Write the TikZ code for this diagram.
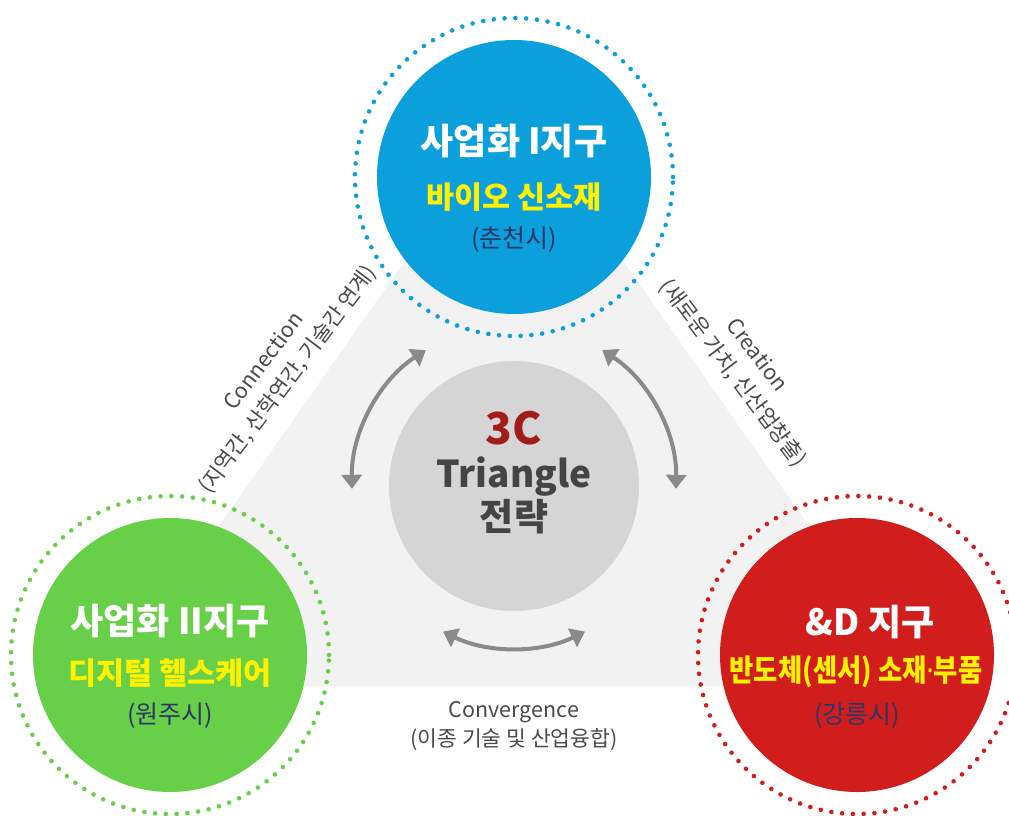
\documentclass[tikz,border=0pt]{standalone}
\usepackage{fontspec}
\setmainfont{Noto Sans CJK KR}
\newfontfamily\latinfont{Noto Sans}
\usetikzlibrary{arrows.meta,calc}
\definecolor{cblue}{HTML}{0BA0DC}
\definecolor{cgreen}{HTML}{67CF48}
\definecolor{cred}{HTML}{D21D1D}
\definecolor{ctri}{HTML}{F2F2F2}
\definecolor{ccen}{HTML}{D5D5D5}
\definecolor{carr}{HTML}{8A8A8A}
\definecolor{cnavy}{HTML}{2E3568}
\definecolor{cdark}{HTML}{444444}
\definecolor{cthree}{HTML}{A31B1B}
\definecolor{ctext}{HTML}{4A4A4A}
\begin{document}
\begin{tikzpicture}[x=1pt,y=1pt,
 hub/.style={circle,minimum size=274pt,inner sep=0pt,draw=none},
 ring/.style={line width=4.6pt,dash pattern=on 0pt off 10.8pt,line cap=round},
 title/.style={text=white,font=\fontsize{36}{36}\selectfont\bfseries,inner sep=0pt},
 sub/.style={text=yellow,font=\fontsize{30.5}{30.5}\selectfont\bfseries,inner sep=0pt},
 city/.style={text=cnavy,font=\fontsize{25}{25}\selectfont,inner sep=0pt},
 lab/.style={text=ctext,font=\fontsize{21.5}{30}\selectfont,align=center,inner sep=0pt},
 arr/.style={carr,line width=4pt,{Triangle[length=14pt,width=20pt]}-{Triangle[length=14pt,width=20pt]}},
]
\useasboundingbox (0,0) rectangle (1009,-816);
\clip (0,0) rectangle (1009,-816);
% background triangle
\coordinate (ta) at (514,-105);
\coordinate (tl) at (107,-686);
\coordinate (tr) at (921,-686);
\fill[ctri] (ta) -- (tl) -- (tr) -- cycle;
% centre circle
\node[circle,minimum size=250pt,inner sep=0pt,fill=ccen] (cc) at (514,-486) {};
% arrows
\draw[arr] ($(cc.center)+(123:162)$) arc[start angle=123, end angle=181, radius=162];
\draw[arr] ($(cc.center)+(57:162)$) arc[start angle=57, end angle=-1, radius=162];
\draw[arr] ($(cc.center)+(244:162)$) arc[start angle=244, end angle=296, radius=162];
% hubs
\node[hub,fill=cblue] (top) at (514,-177) {};
\node[hub,fill=cgreen] (left) at (170,-655) {};
\node[hub,fill=cred] (right) at (857,-655) {};
\draw[ring,cblue] (top.center) circle[radius=159];
\draw[ring,cgreen] (left.center) circle[radius=159];
\draw[ring,cred] (right.center) circle[radius=159];
% texts top
\node[title] (t1) at (514,-141) {사업화 I지구};
\node[sub] (t2) at (514,-197) {바이오 신소재};
\node[city] (t3) at (514,-240) {(춘천시)};
% texts left
\node[title] (l1) at (170,-621) {사업화 II지구};
\node[sub] (l2) at (170,-673) {디지털 헬스케어};
\node[city] (l3) at (170,-716) {(원주시)};
% texts right
\node[title] (r1) at (870,-622) {\&D 지구};
\node[sub] (r2) at (856,-672) {\scalebox{0.865}[1]{반도체(센서) 소재{\latinfont\bfseries ·}부품}};
\node[city] (r3) at (857,-716) {(강릉시)};
% centre texts
\node[text=cthree,font=\fontsize{44}{44}\selectfont\bfseries,inner sep=0pt] (c1) at (514,-428) {3C};
\node[text=cdark,font=\fontsize{37}{37}\selectfont\bfseries,inner sep=0pt] (c2) at (514,-477) {Triangle};
\node[text=cdark,font=\fontsize{37}{37}\selectfont\bfseries,inner sep=0pt] (c3) at (514,-517) {전략};
% side labels
\node[lab,rotate=53] (conn) at (276.5,-371) {Connection\\(지역간, 산학연간, 기술간 연계)};
\node[lab,rotate=-53] (crea) at (744.5,-364.5) {Creation\\(새로운 가치, 신산업창출)};
\node[lab,font=\fontsize{21.5}{29}\selectfont] (conv) at (514,-726.5) {Convergence\\(이종 기술 및 산업융합)};
\end{tikzpicture}
\end{document}
